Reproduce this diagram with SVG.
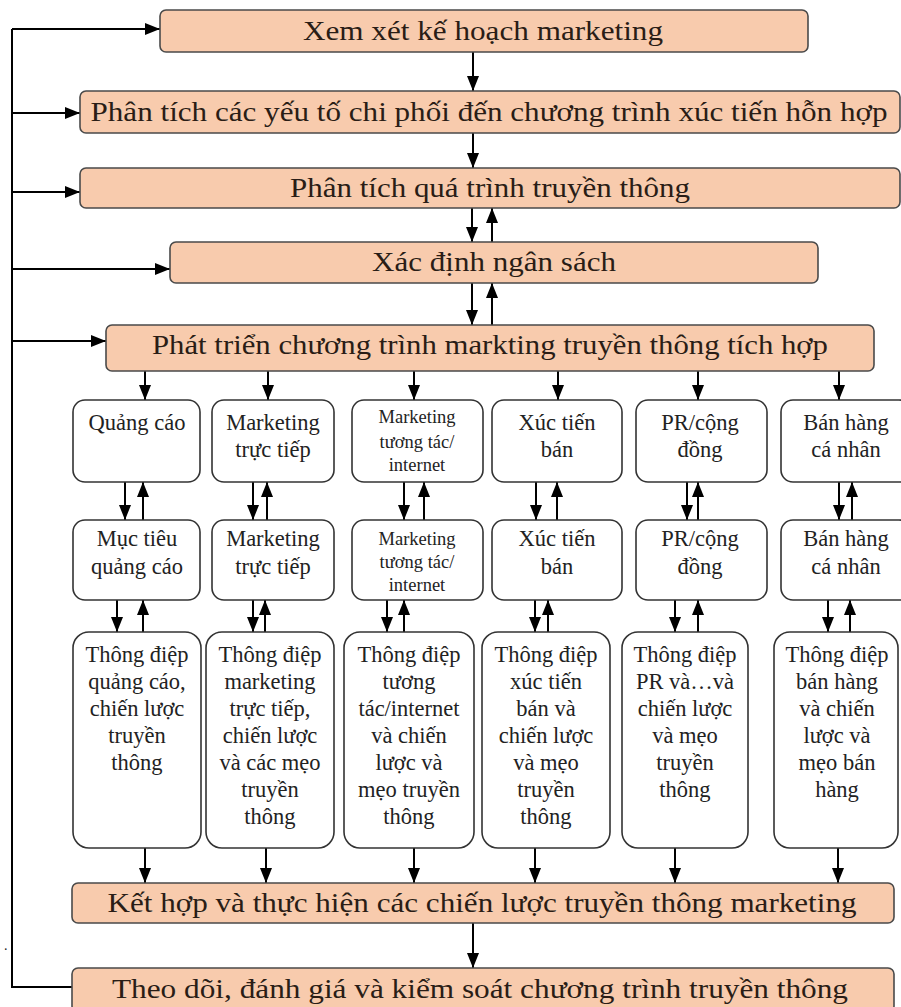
<svg xmlns="http://www.w3.org/2000/svg" width="901" height="1007" viewBox="0 0 901 1007">
<defs>
<marker id="ah" markerUnits="userSpaceOnUse" markerWidth="15" markerHeight="12" refX="15" refY="6" orient="auto">
<path d="M0,0 L15,6 L0,12 z" fill="#000"/>
</marker>
<style>
.main{fill:#F8CBAD;stroke:#4a4a4a;stroke-width:1.6}
.col{fill:#fff;stroke:#333;stroke-width:1.6}
.mt{font-family:"Liberation Serif","Times New Roman",serif;font-size:28px;fill:#2a1d16;text-anchor:middle}
.ct{font-family:"Liberation Serif","Times New Roman",serif;font-size:22.5px;fill:#222;text-anchor:middle}
.cs{font-family:"Liberation Serif","Times New Roman",serif;font-size:18.5px;fill:#222;text-anchor:middle}
.cn{fill:none;stroke:#000;stroke-width:2}
.ar{fill:none;stroke:#000;stroke-width:2;marker-end:url(#ah)}
</style>
</defs>
<rect width="901" height="1007" fill="#fff"/>

<g id="connectors">
<path class="cn" d="M12,29 V987 H72"/>
<path class="ar" d="M12,29 H160"/>
<path class="ar" d="M12,113 H80"/>
<path class="ar" d="M12,192 H80"/>
<path class="ar" d="M12,269 H170"/>
<path class="ar" d="M12,341 H106"/>
<path class="ar" d="M473,52 V91"/>
<path class="ar" d="M473,133 V168"/>
<path class="ar" d="M472,208 V242"/>
<path class="ar" d="M492,242 V208"/>
<path class="ar" d="M472,283 V325"/>
<path class="ar" d="M492,325 V283"/>
<path class="ar" d="M145,371 V400"/>
<path class="ar" d="M268,371 V400"/>
<path class="ar" d="M414,371 V400"/>
<path class="ar" d="M558,371 V400"/>
<path class="ar" d="M698,371 V400"/>
<path class="ar" d="M839,371 V400"/>
<path class="ar" d="M125,482 V520"/>
<path class="ar" d="M143,520 V482"/>
<path class="ar" d="M253,482 V520"/>
<path class="ar" d="M267,520 V482"/>
<path class="ar" d="M404,482 V520"/>
<path class="ar" d="M424,520 V482"/>
<path class="ar" d="M536,482 V520"/>
<path class="ar" d="M557,520 V482"/>
<path class="ar" d="M687,482 V520"/>
<path class="ar" d="M698,520 V482"/>
<path class="ar" d="M839,482 V520"/>
<path class="ar" d="M852,520 V482"/>
<path class="ar" d="M117,600 V632"/>
<path class="ar" d="M143,632 V600"/>
<path class="ar" d="M253,600 V632"/>
<path class="ar" d="M265,632 V600"/>
<path class="ar" d="M387,600 V632"/>
<path class="ar" d="M404,632 V600"/>
<path class="ar" d="M535,600 V632"/>
<path class="ar" d="M548,632 V600"/>
<path class="ar" d="M675,600 V632"/>
<path class="ar" d="M698,632 V600"/>
<path class="ar" d="M828,600 V632"/>
<path class="ar" d="M850,632 V600"/>
<path class="ar" d="M145,848 V883"/>
<path class="ar" d="M266,848 V883"/>
<path class="ar" d="M414,848 V883"/>
<path class="ar" d="M535,848 V883"/>
<path class="ar" d="M675,848 V883"/>
<path class="ar" d="M838,848 V883"/>
<path class="ar" d="M473,923 V968"/>
</g>

<g id="n1"><rect class="main" x="160" y="10" width="648" height="42" rx="6"/><text class="mt" x="483" y="40" textLength="360" lengthAdjust="spacingAndGlyphs">Xem xét kế hoạch marketing</text></g>
<g id="n2"><rect class="main" x="80" y="91" width="820" height="42" rx="6"/><text class="mt" x="489" y="121" textLength="797" lengthAdjust="spacingAndGlyphs">Phân tích các yếu tố chi phối đến chương trình xúc tiến hỗn hợp</text></g>
<g id="n3"><rect class="main" x="80" y="168" width="820" height="40" rx="6"/><text class="mt" x="490" y="197" textLength="400" lengthAdjust="spacingAndGlyphs">Phân tích quá trình truyền thông</text></g>
<g id="n4"><rect class="main" x="170" y="242" width="648" height="41" rx="6"/><text class="mt" x="494" y="271" textLength="244" lengthAdjust="spacingAndGlyphs">Xác định ngân sách</text></g>
<g id="n5"><rect class="main" x="106" y="325" width="768" height="46" rx="6"/><text class="mt" x="490" y="354" textLength="676" lengthAdjust="spacingAndGlyphs">Phát triển chương trình markting truyền thông tích hợp</text></g>

<g id="r1c1"><rect class="col" x="73" y="400" width="127" height="82" rx="12"/><text class="ct" x="137" y="430">Quảng cáo</text></g>
<g id="r1c2"><rect class="col" x="212" y="400" width="122" height="82" rx="12"/><text class="ct" x="273" y="430">Marketing</text><text class="ct" x="273" y="457">trực tiếp</text></g>
<g id="r1c3"><rect class="col" x="352" y="400" width="131" height="82" rx="12"/><text class="cs" x="417" y="423">Marketing</text><text class="cs" x="417" y="448">tương tác/</text><text class="cs" x="417" y="471">internet</text></g>
<g id="r1c4"><rect class="col" x="492" y="400" width="130" height="82" rx="12"/><text class="ct" x="557" y="430">Xúc tiến</text><text class="ct" x="557" y="457">bán</text></g>
<g id="r1c5"><rect class="col" x="636" y="400" width="131" height="82" rx="12"/><text class="ct" x="700" y="430">PR/cộng</text><text class="ct" x="700" y="457">đồng</text></g>
<g id="r1c6"><rect class="col" x="781" y="400" width="130" height="82" rx="12"/><text class="ct" x="846" y="430">Bán hàng</text><text class="ct" x="846" y="457">cá nhân</text></g>

<g id="r2c1"><rect class="col" x="73" y="520" width="127" height="80" rx="12"/><text class="ct" x="137" y="546">Mục tiêu</text><text class="ct" x="137" y="574">quảng cáo</text></g>
<g id="r2c2"><rect class="col" x="212" y="520" width="122" height="80" rx="12"/><text class="ct" x="273" y="546">Marketing</text><text class="ct" x="273" y="574">trực tiếp</text></g>
<g id="r2c3"><rect class="col" x="352" y="520" width="131" height="80" rx="12"/><text class="cs" x="417" y="545">Marketing</text><text class="cs" x="417" y="568">tương tác/</text><text class="cs" x="417" y="591">internet</text></g>
<g id="r2c4"><rect class="col" x="492" y="520" width="130" height="80" rx="12"/><text class="ct" x="557" y="546">Xúc tiến</text><text class="ct" x="557" y="574">bán</text></g>
<g id="r2c5"><rect class="col" x="636" y="520" width="131" height="80" rx="12"/><text class="ct" x="700" y="546">PR/cộng</text><text class="ct" x="700" y="574">đồng</text></g>
<g id="r2c6"><rect class="col" x="781" y="520" width="130" height="80" rx="12"/><text class="ct" x="846" y="546">Bán hàng</text><text class="ct" x="846" y="574">cá nhân</text></g>

<g id="r3c1"><rect class="col" x="73" y="632" width="128" height="216" rx="16"/>
<text class="ct" x="137" y="662">Thông điệp</text><text class="ct" x="137" y="689">quảng cáo,</text><text class="ct" x="137" y="716">chiến lược</text><text class="ct" x="137" y="743">truyền</text><text class="ct" x="137" y="770">thông</text></g>
<g id="r3c2"><rect class="col" x="206" y="632" width="128" height="216" rx="16"/>
<text class="ct" x="270" y="662">Thông điệp</text><text class="ct" x="270" y="689">marketing</text><text class="ct" x="270" y="716">trực tiếp,</text><text class="ct" x="270" y="743">chiến lược</text><text class="ct" x="270" y="770">và các mẹo</text><text class="ct" x="270" y="797">truyền</text><text class="ct" x="270" y="824">thông</text></g>
<g id="r3c3"><rect class="col" x="344" y="632" width="130" height="216" rx="16"/>
<text class="ct" x="409" y="662">Thông điệp</text><text class="ct" x="409" y="689">tương</text><text class="ct" x="409" y="716">tác/internet</text><text class="ct" x="409" y="743">và chiến</text><text class="ct" x="409" y="770">lược và</text><text class="ct" x="409" y="797">mẹo truyền</text><text class="ct" x="409" y="824">thông</text></g>
<g id="r3c4"><rect class="col" x="482" y="632" width="128" height="216" rx="16"/>
<text class="ct" x="546" y="662">Thông điệp</text><text class="ct" x="546" y="689">xúc tiến</text><text class="ct" x="546" y="716">bán và</text><text class="ct" x="546" y="743">chiến lược</text><text class="ct" x="546" y="770">và mẹo</text><text class="ct" x="546" y="797">truyền</text><text class="ct" x="546" y="824">thông</text></g>
<g id="r3c5"><rect class="col" x="622" y="632" width="126" height="216" rx="16"/>
<text class="ct" x="685" y="662">Thông điệp</text><text class="ct" x="685" y="689">PR và…và</text><text class="ct" x="685" y="716">chiến lược</text><text class="ct" x="685" y="743">và mẹo</text><text class="ct" x="685" y="770">truyền</text><text class="ct" x="685" y="797">thông</text></g>
<g id="r3c6"><rect class="col" x="774" y="632" width="124" height="216" rx="16"/>
<text class="ct" x="837" y="662">Thông điệp</text><text class="ct" x="837" y="689">bán hàng</text><text class="ct" x="837" y="716">và chiến</text><text class="ct" x="837" y="743">lược và</text><text class="ct" x="837" y="770">mẹo bán</text><text class="ct" x="837" y="797">hàng</text></g>

<g id="n6"><rect class="main" x="72" y="883" width="822" height="40" rx="6"/><text class="mt" x="482" y="912" textLength="749" lengthAdjust="spacingAndGlyphs">Kết hợp và thực hiện các chiến lược truyền thông marketing</text></g>
<g id="n7"><rect class="main" x="72" y="968" width="822" height="44" rx="6"/><text class="mt" x="480" y="998" textLength="736" lengthAdjust="spacingAndGlyphs">Theo dõi, đánh giá và kiểm soát chương trình truyền thông</text></g>

<text x="4" y="950" font-family="Liberation Serif, serif" font-size="14" fill="#222">.</text>
</svg>
